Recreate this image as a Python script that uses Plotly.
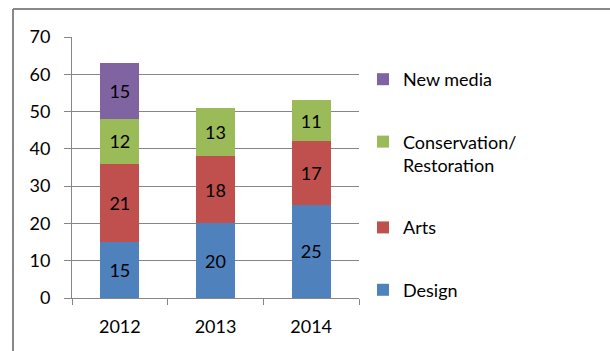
import plotly.graph_objects as go

years = ["2012", "2013", "2014"]
design = [15, 20, 25]
arts = [21, 18, 17]
conservation = [12, 13, 11]
new_media = [15, 0, 0]

# (name, values, colour, legend rank) — stacked bottom to top, listed top to bottom
series = [
    ("Design", design, "#4F81BD", 4),
    ("Arts", arts, "#C0504D", 3),
    ("Conservation/<br>Restoration", conservation, "#9BBB59", 2),
    ("New media", new_media, "#8064A2", 1),
]

FONT = "Lato"
FS = 18
W, H = 610, 351
L, R, T, B = 72, 251, 37, 53
pw, ph = W - L - R, H - T - B

fig = go.Figure()
for name, vals, color, rank in series:
    fig.add_trace(go.Bar(
        x=years, y=vals, name=name, legendgroup=name, legendrank=rank,
        marker=dict(color=color, line=dict(width=0)),
        text=[str(v) if v else "" for v in vals],
        textposition="inside", insidetextanchor="middle",
        textfont=dict(color="black", size=FS, family=FONT),
        constraintext="none",
        hoverinfo="skip",
    ))

grid = "#868686"
fig.update_layout(
    width=W, height=H,
    barmode="stack", bargap=0.595,
    margin=dict(l=L, r=R, t=T, b=B, pad=0),
    paper_bgcolor="white", plot_bgcolor="white",
    font=dict(family=FONT, size=FS, color="black"),
    showlegend=True,
    legend=dict(
        x=(363 - L) / pw, xanchor="left",
        y=1 + (T - 61) / ph, yanchor="top",
        traceorder="grouped",
        tracegroupgap=36,
        valign="top",
        font=dict(family=FONT, size=FS, color="black"),
        bgcolor="rgba(0,0,0,0)",
    ),
    xaxis=dict(
        type="category",
        showline=True, linecolor=grid, linewidth=1,
        ticks="outside", tickson="boundaries", ticklen=6, tickcolor=grid, tickwidth=1,
        showgrid=False, ticklabelstandoff=12,
        tickfont=dict(family=FONT, size=FS, color="black"),
    ),
    yaxis=dict(
        range=[0, 70], dtick=10,
        showline=True, linecolor=grid, linewidth=1,
        ticks="outside", ticklen=7, tickcolor=grid, tickwidth=1,
        showgrid=True, gridcolor=grid, gridwidth=1,
        zeroline=False, ticklabelstandoff=10,
        tickfont=dict(family=FONT, size=FS, color="black"),
    ),
    shapes=[
        dict(type="line", xref="paper", yref="paper",
             x0=(13 - L) / pw, x1=(13 - L) / pw,
             y0=1 + (T - 9) / ph, y1=-0.5,
             line=dict(color="#888888", width=2)),
        dict(type="line", xref="paper", yref="paper",
             x0=(13 - L) / pw, x1=2.2,
             y0=1 + (T - 9) / ph, y1=1 + (T - 9) / ph,
             line=dict(color="#888888", width=2)),
    ],
)

fig.write_html("out.html")
